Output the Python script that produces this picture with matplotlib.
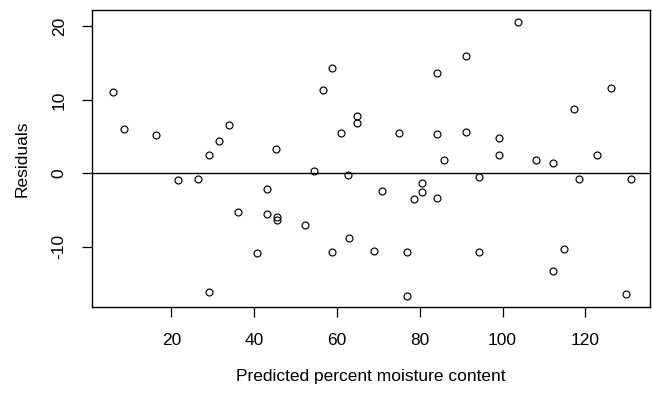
import numpy as np
import matplotlib
matplotlib.use('Agg')
import matplotlib.pyplot as plt

plt.rcParams['font.family'] = ['Liberation Sans', 'DejaVu Sans']

# fitted values (predicted percent moisture content) and residuals
predicted = [5.84, 8.57, 16.4, 33.9, 31.5, 29.1, 45.4, 103.7, 91.1, 58.7,
             84.1, 56.6, 64.9, 64.9, 60.9, 74.9, 84.1, 91.1, 99.1, 99.1,
             85.9, 108.0, 126.1, 117.2, 122.9, 112.1, 21.5, 26.4, 43.1, 36.1,
             43.1, 45.5, 45.5, 40.8, 29.1, 54.4, 62.7, 80.6, 80.6, 70.9,
             78.7, 84.1, 94.4, 52.3, 62.8, 58.7, 69.0, 76.8, 94.4, 76.8,
             118.4, 131.0, 114.8, 112.1, 129.9]
residuals = [11.1, 6.07, 5.21, 6.53, 4.39, 2.45, 3.35, 20.6, 15.96, 14.3,
             13.7, 11.4, 7.8, 6.8, 5.48, 5.48, 5.35, 5.62, 4.76, 2.49,
             1.86, 1.86, 11.56, 8.8, 2.45, 1.36, -0.91, -0.78, -2.14, -5.31,
             -5.58, -6.0, -6.4, -10.8, -16.1, 0.27, -0.27, -1.36, -2.58, -2.45,
             -3.5, -3.31, -0.45, -6.99, -8.8, -10.75, -10.6, -10.75, -10.75, -16.7,
             -0.78, -0.78, -10.3, -13.3, -16.4]

xticks = [20, 40, 60, 80, 100, 120]
yticks = [-10, 0, 10, 20]

fig = plt.figure(figsize=(6.52, 3.93), dpi=100)
ax = fig.add_axes([0.1406, 0.2196, 0.8564, 0.7542])

ax.plot(predicted, residuals, 'o', mfc='none', mec='black', ms=5.0, mew=0.85)
ax.axhline(0, color='black', lw=1.0)

ax.set_xlim(0.77, 135.6)
ax.set_ylim(-18.15, 22.2)
ax.set_xticks(xticks)
ax.set_yticks(yticks)
ax.set_yticklabels([str(v) for v in yticks], rotation=90, va='center')
ax.tick_params(axis='both', direction='out', length=7, width=0.9,
               labelsize=12.5, color='black')
ax.tick_params(axis='x', pad=12)
ax.tick_params(axis='y', pad=11)
for s in ax.spines.values():
    s.set_linewidth(1.0)

ax.set_xlabel('Predicted percent moisture content', fontsize=12.5)
ax.set_ylabel('Residuals', fontsize=12.5)
ax.xaxis.set_label_coords(0.5, -0.234)
ax.xaxis.label.set_va('center')
ax.yaxis.set_label_coords(-0.1254, 0.5)
ax.yaxis.label.set_va('center')

fig.savefig('out.png', dpi=100, facecolor='white')
